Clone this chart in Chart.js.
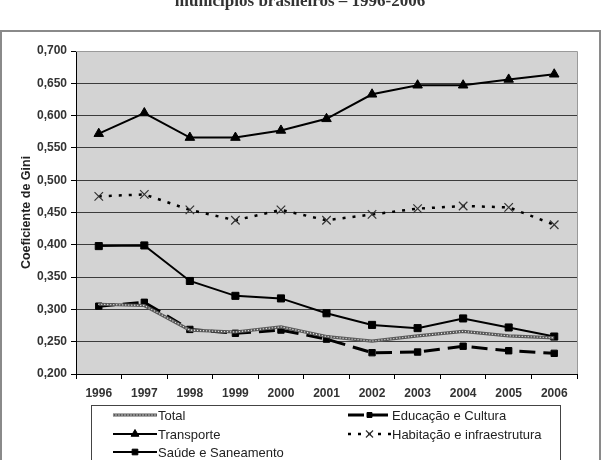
<!DOCTYPE html>
<html>
<head>
<meta charset="utf-8">
<script src="https://cdn.jsdelivr.net/npm/chart.js@4"></script>
<style>
html, body { margin: 0; padding: 0; background: #fff; }
#wrap { width: 602px; height: 460px; }
</style>
</head>
<body>
<div id="wrap"><canvas id="myChart" width="602" height="460"></canvas></div>
<script>
const years = ['1996', '1997', '1998', '1999', '2000', '2001', '2002', '2003', '2004', '2005', '2006']
const total = [0.308, 0.306, 0.268, 0.265, 0.273, 0.258, 0.251, 0.259, 0.266, 0.259, 0.256]
const educacao = [0.305, 0.311, 0.269, 0.263, 0.268, 0.254, 0.233, 0.234, 0.243, 0.236, 0.232]
const transporte = [0.572, 0.604, 0.566, 0.566, 0.577, 0.595, 0.633, 0.647, 0.647, 0.656, 0.664]
const habitacao = [0.475, 0.478, 0.454, 0.438, 0.454, 0.438, 0.447, 0.456, 0.460, 0.458, 0.431]
const saude = [0.398, 0.399, 0.344, 0.321, 0.317, 0.294, 0.276, 0.271, 0.286, 0.272, 0.258]

const titleText = 'municípios brasileiros – 1996-2006'
const yTitle = 'Coeficiente de Gini'

const ctx = document.getElementById('myChart')
const sans = '"Liberation Sans", Arial, sans-serif'

// the "Total" line is a grey stroke with light dots on top (chain of little circles)
function dotOverlay(c, pts) {
    c.save()
    c.beginPath()
    pts.forEach((p, i) => i ? c.lineTo(p.x, p.y) : c.moveTo(p.x, p.y))
    c.strokeStyle = '#ececec'
    c.lineWidth = 1.3
    c.lineCap = 'round'
    c.setLineDash([0, 3])
    c.stroke()
    c.restore()
}

function drawSample(c, ds, x1, x2, y) {
    c.save()
    c.beginPath()
    c.moveTo(x1, y)
    c.lineTo(x2, y)
    c.strokeStyle = ds.borderColor
    c.lineWidth = ds.borderWidth
    c.setLineDash(ds.borderDash || [])
    c.stroke()
    c.restore()
    if (ds.label === 'Total') dotOverlay(c, [{x: x1, y: y}, {x: x2, y: y}])
    if (ds.pointRadius > 0 && Chart.helpers && Chart.helpers.drawPoint) {
        c.save()
        c.fillStyle = ds.pointBackgroundColor
        c.strokeStyle = ds.pointBorderColor
        c.lineWidth = ds.pointBorderWidth
        Chart.helpers.drawPoint(c, {pointStyle: ds.pointStyle, radius: ds.pointRadius - 1, rotation: 0, borderWidth: ds.pointBorderWidth}, (x1 + x2) / 2, y)
        c.restore()
    }
}

const framePlugin = {
    id: 'frame',
    beforeDraw(chart) {
        const c = chart.ctx
        const a = chart.chartArea
        c.save()
        c.fillStyle = '#fff'
        c.fillRect(0, 0, chart.width, chart.height)
        c.font = 'bold 17px "Liberation Serif", "DejaVu Serif", serif'
        c.fillStyle = '#333'
        c.textAlign = 'center'
        c.textBaseline = 'alphabetic'
        c.fillText(titleText, 300, 6)
        c.strokeStyle = '#8a8a8a'
        c.lineWidth = 2
        c.strokeRect(1, 31, 599, 440)
        c.fillStyle = '#d3d3d3'
        c.fillRect(a.left, a.top, a.right - a.left, a.bottom - a.top)
        c.restore()
    },
    afterDatasetDraw(chart, args) {
        if (args.index !== 0) return
        dotOverlay(chart.ctx, args.meta.data.map(p => ({x: p.x, y: p.y})))
    },
    afterDraw(chart) {
        const c = chart.ctx
        const a = chart.chartArea
        c.save()
        c.strokeStyle = '#9a9a9a'
        c.lineWidth = 1
        c.beginPath()
        c.moveTo(a.left, a.top + 0.5)
        c.lineTo(a.right + 0.5, a.top + 0.5)
        c.lineTo(a.right + 0.5, a.bottom)
        c.stroke()

        // legend box
        c.fillStyle = '#fff'
        c.fillRect(91.5, 405.5, 469, 60)
        c.strokeStyle = '#444'
        c.strokeRect(91.5, 405.5, 469, 60)
        c.restore()

        const ds = chart.data.datasets
        const rows = [
            [ds[0], 113, 157, 415],
            [ds[2], 113, 157, 434],
            [ds[4], 113, 157, 452],
            [ds[1], 348, 391, 415],
            [ds[3], 348, 391, 434]
        ]
        rows.forEach(r => {
            drawSample(c, r[0], r[1], r[2], r[3])
            c.save()
            c.font = '13px ' + sans
            c.fillStyle = '#222'
            c.textAlign = 'left'
            c.textBaseline = 'middle'
            c.fillText(r[0].label, r[2] + 1, r[3] + 1)
            c.restore()
        })
    }
}

new Chart(ctx, {
    type: 'line',
    data: {
        labels: years,
        datasets: [
            {
                label: 'Total',
                data: total,
                borderColor: '#595959',
                borderWidth: 3.2,
                pointRadius: 0,
                tension: 0
            },
            {
                label: 'Educação e Cultura',
                data: educacao,
                borderColor: '#000',
                borderWidth: 3,
                borderDash: [16, 8],
                pointStyle: 'rect',
                pointRadius: 4.5,
                pointBackgroundColor: '#000',
                pointBorderColor: '#000',
                pointBorderWidth: 1,
                tension: 0
            },
            {
                label: 'Transporte',
                data: transporte,
                borderColor: '#000',
                borderWidth: 2,
                pointStyle: 'triangle',
                pointRadius: 5.5,
                pointBackgroundColor: '#000',
                pointBorderColor: '#000',
                pointBorderWidth: 1,
                tension: 0
            },
            {
                label: 'Habitação e infraestrutura',
                data: habitacao,
                borderColor: '#000',
                borderWidth: 2.5,
                borderDash: [3, 7],
                pointStyle: 'crossRot',
                pointRadius: 6,
                pointBackgroundColor: '#333',
                pointBorderColor: '#333',
                pointBorderWidth: 1.2,
                tension: 0
            },
            {
                label: 'Saúde e Saneamento',
                data: saude,
                borderColor: '#000',
                borderWidth: 2,
                pointStyle: 'rect',
                pointRadius: 5,
                pointBackgroundColor: '#000',
                pointBorderColor: '#000',
                pointBorderWidth: 1,
                tension: 0
            }
        ]
    },
    options: {
        responsive: false,
        animation: false,
        layout: {
            padding: {top: 51, right: 25, left: 0, bottom: 0}
        },
        plugins: {
            legend: {display: false},
            tooltip: {enabled: false}
        },
        scales: {
            x: {
                offset: true,
                afterFit: (scale) => { scale.height = 86 },
                grid: {
                    offset: true,
                    drawOnChartArea: false,
                    drawTicks: true,
                    tickLength: 5,
                    tickColor: '#000'
                },
                border: {color: '#000', width: 1},
                ticks: {
                    padding: 7,
                    color: '#333',
                    maxRotation: 0,
                    font: {family: sans, size: 12, weight: 'bold'}
                }
            },
            y: {
                min: 0.2,
                max: 0.7,
                afterFit: (scale) => { scale.width = 76 },
                grid: {
                    color: '#3c3c3c',
                    lineWidth: 1,
                    drawTicks: true,
                    tickLength: 5,
                    tickColor: '#000'
                },
                border: {color: '#000', width: 1},
                ticks: {
                    stepSize: 0.05,
                    padding: 4,
                    color: '#333',
                    font: {family: sans, size: 12, weight: 'bold'},
                    callback: (v) => v.toFixed(3).replace('.', ',')
                },
                title: {
                    display: true,
                    text: yTitle,
                    color: '#222',
                    padding: {top: 19, bottom: 0},
                    font: {family: sans, size: 12.5, weight: 'bold'}
                }
            }
        }
    },
    plugins: [framePlugin]
})
</script>
</body>
</html>
